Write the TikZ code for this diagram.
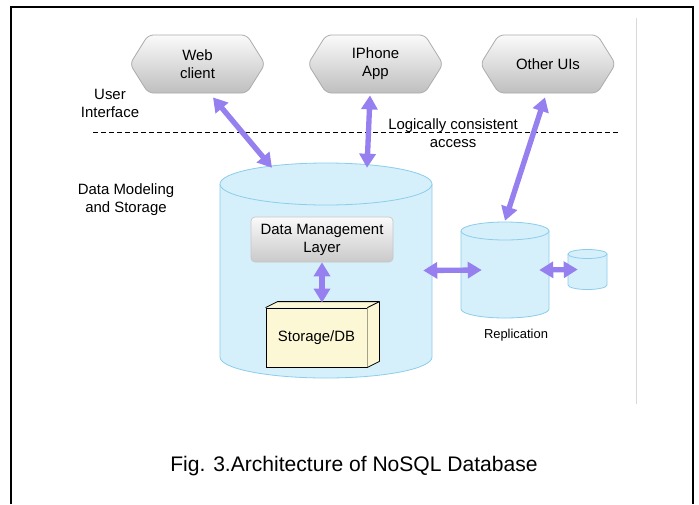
\documentclass[tikz,border=0pt]{standalone}
\usepackage{fontspec}
\setmainfont{Liberation Sans}
\usetikzlibrary{shapes.symbols,arrows.meta,calc}
\definecolor{cylfill}{RGB}{214,240,251}
\definecolor{cyldraw}{RGB}{140,205,235}
\definecolor{arrowfill}{RGB}{150,128,240}
\definecolor{boxfill}{RGB}{252,248,214}

% vertical cylinder: centre x, top-ellipse y, bottom-ellipse y, radius x, radius y
\newcommand\dbcylinder[5]{%
  \fill[cylfill] (#1-#4,#2) -- (#1-#4,#3) arc[start angle=180,end angle=360,x radius=#4,y radius=-#5]
    -- (#1+#4,#2) arc[start angle=0,end angle=180,x radius=#4,y radius=-#5] -- cycle;
  \draw[cyldraw,line width=0.6pt] (#1-#4,#2) -- (#1-#4,#3) arc[start angle=180,end angle=360,x radius=#4,y radius=-#5]
    -- (#1+#4,#2);
  \draw[cyldraw,line width=0.6pt,fill=cylfill] (#1,#2) ellipse[x radius=#4,y radius=#5];
}

\begin{document}
\begin{tikzpicture}[x=0.75pt,y=-0.75pt,
  lbl/.style={align=center,inner sep=0pt,font=\fontsize{11.2}{13.5}\selectfont},
  uihex/.style={shape=signal,signal to=west and east,signal pointer angle=116,
    draw=gray!65,line width=0.6pt,rounded corners=4pt,top color=gray!4,bottom color=gray!50,
    minimum width=101.25pt,minimum height=43.5pt,inner sep=0pt,align=center,
    font=\fontsize{11.2}{13.5}\selectfont},
  layerbox/.style={draw=gray!45,line width=0.5pt,rounded corners=3pt,
    top color=gray!4,bottom color=gray!42,minimum width=106.5pt,minimum height=33.75pt,
    inner sep=0pt,align=center,font=\fontsize{11.2}{13.5}\selectfont},
  storebox/.style={draw=black,line width=0.6pt,fill=boxfill,minimum width=75.75pt,
    minimum height=44.25pt,inner sep=0pt,font=\fontsize{11.2}{13.5}\selectfont},
  area/.style={inner sep=0pt,minimum width=#1},
  dblarrow/.style={draw=arrowfill,line width=4pt,
    {Triangle[length=10.5pt,width=12pt]}-{Triangle[length=10.5pt,width=12pt]}}]

\useasboundingbox (0,0) rectangle (699,504);
\fill[white] (0,0) rectangle (699,504);

% page frame and the light rule on the right
\draw[line width=1.5pt] (11,504) -- (11,7) -- (693,7) -- (693,504);
\draw[gray!30,line width=0.7pt] (636,18) -- (636,404);

% user interfaces
\node[uihex] (web) at (197.5,64) {Web\\client};
\node[uihex] (iphone) at (375.5,64) {IPhone\\App};
\node[uihex] (other) at (548,64) {Other UIs};

\node[lbl] (ui) at (110,103) {User\\Interface};
\draw[line width=0.6pt,dash pattern=on 3.5pt off 2.5pt] (93,132) -- (618,132);
\node[lbl] (access) at (453,133) {Logically consistent\\access};
\node[lbl] (model) at (126,200) {Data Modeling\\and Storage};

% storage cylinders
\dbcylinder{326}{184}{357}{106}{21}
\dbcylinder{505}{231}{309}{44}{9}
\dbcylinder{587.5}{254}{285}{19.5}{4.5}
\path (326,270.5) node[area=159pt,minimum height=161.25pt] (bigdb) {};
\path (505,270) node[area=66pt,minimum height=72pt] (repdb) {};
\path (587.5,269.5) node[area=29.25pt,minimum height=30pt] (smalldb) {};
\node[font=\fontsize{9.7}{12}\selectfont] (replabel) at (516,335) {Replication};

% inside the main store
\node[layerbox] (dml) at (322,239.5) {Data Management\\Layer};
\node[storebox] (store) at (316.5,337.5) {Storage/DB};
\fill[boxfill] (store.north west) -- ++(12,-6) -- ($(store.north east)+(12,-6)$)
  -- ($(store.south east)+(12,-6)$) -- (store.south east) -- (store.north east) -- cycle;
\draw[line width=0.6pt,line join=round] (store.north west) -- ++(12,-6) -- ($(store.north east)+(12,-6)$)
  -- ($(store.south east)+(12,-6)$) -- (store.south east);
\draw[line width=0.6pt] (store.north east) -- ++(12,-6);

% connectors
\draw[dblarrow] ($(web.south)+(15.5,4)$) -- ($(bigdb.north)+(-54,5)$);
\draw[dblarrow] ($(iphone.south)+(-5.5,2)$) -- ($(bigdb.north)+(41,5)$);
\draw[dblarrow] ($(other.south)+(-3,4)$) -- ($(repdb.north)+(0,-1)$);
\draw[dblarrow] ($(bigdb.east)+(-9,0)$) -- ($(repdb.west)+(21,0)$);
\draw[dblarrow] ($(repdb.east)+(-10,0)$) -- ($(smalldb.west)+(10,0)$);
\draw[dblarrow] (dml.south) -- ($(dml.south |- store.north)+(0,-5)$);

\node[font=\fontsize{15.8}{19}\selectfont] (caption) at (354,466) {Fig. 3.Architecture of NoSQL Database};
\end{tikzpicture}
\end{document}
